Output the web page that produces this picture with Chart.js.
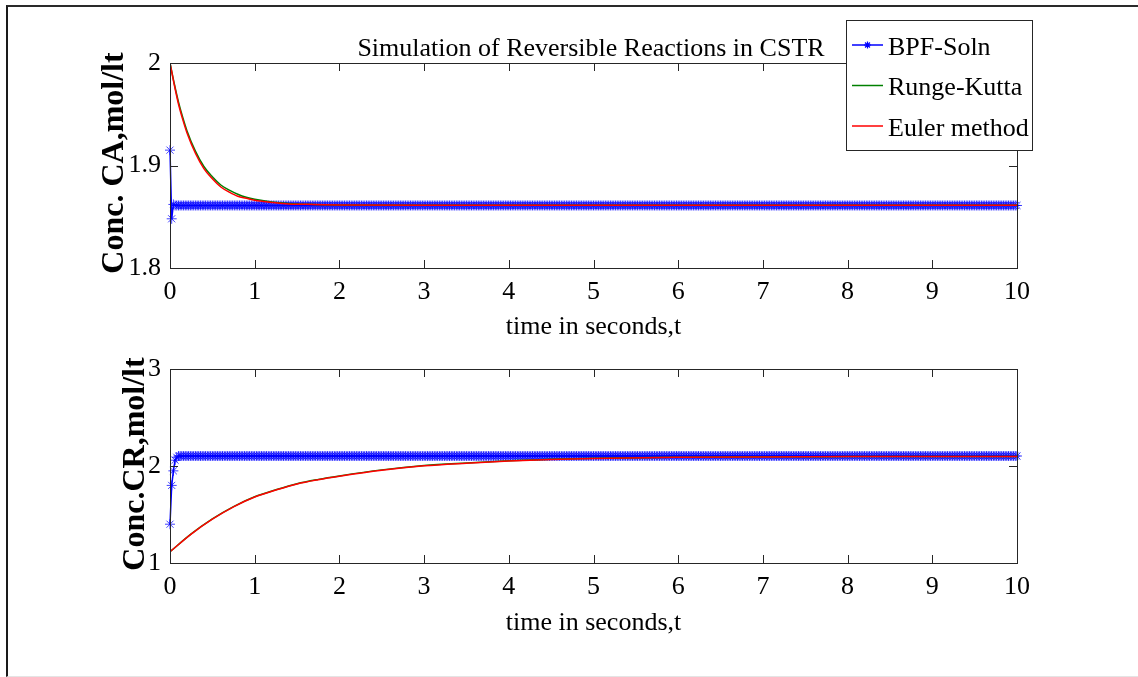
<!DOCTYPE html>
<html>
<head>
<meta charset="utf-8">
<title>Simulation of Reversible Reactions in CSTR</title>
<script src="https://cdn.jsdelivr.net/npm/chart.js@4.4.1/dist/chart.umd.min.js"></script>
<style>
  html, body { margin: 0; padding: 0; background: #fff; }
  #page { position: relative; width: 1138px; height: 677px; overflow: hidden; background: #fff; }
  #frame {
    position: absolute; left: 6px; top: 5px; width: 1132px; height: 672px; box-sizing: border-box;
    border-left: 2px solid #1a1a1a; border-top: 2px solid #2a2a2a; border-bottom: 1px solid #e4e4e4;
  }
  canvas { position: absolute; left: 0; }
  #caChart { top: 0; }
  #crChart { top: 340px; }
</style>
</head>
<body>
<div id="page">
  <div id="frame"></div>
  <canvas id="caChart" width="1138" height="340"></canvas>
  <canvas id="crChart" width="1138" height="337"></canvas>
</div>
<script>
// ---- data ----------------------------------------------------------
const seriesNames = ['BPF-Soln', 'Runge-Kutta', 'Euler method'];

// x axis (time, s)
const timeTicks = [0, 1, 2, 3, 4, 5, 6, 7, 8, 9, 10];
const timeTickLabels = ['0', '1', '2', '3', '4', '5', '6', '7', '8', '9', '10'];

// block-pulse-function solution: sampled every 0.02 s over 0..10 s
const bpfStep = 0.02;
const bpfSamples = 501;
const bpfCAHead = [1.915, 1.848, 1.862];   // first samples of CA
const bpfCALevel = 1.861;                  // CA after the first samples
const bpfCRHead = [1.40, 1.80, 1.95, 2.06, 2.09];
const bpfCRLevel = 2.103;

// CA (top panel)
const caTicks = [1.8, 1.9, 2];
const caTickLabels = ['1.8', '1.9', '2'];
const caTime = [0, 0.05, 0.1, 0.15, 0.2, 0.3, 0.4, 0.5, 0.6, 0.7, 0.8, 0.9, 1.0, 1.2, 1.4, 1.7, 2, 3, 4, 5, 6, 7, 8, 9, 10];
const rkCA = [2.000, 1.980, 1.962, 1.947, 1.934, 1.914, 1.899, 1.889, 1.881, 1.876, 1.872, 1.869, 1.867, 1.8645, 1.863, 1.862, 1.8615, 1.8612, 1.8612, 1.8612, 1.8612, 1.8612, 1.8612, 1.8612, 1.8612];
const eulerCA = [2.000, 1.979, 1.960, 1.945, 1.932, 1.912, 1.897, 1.887, 1.879, 1.874, 1.870, 1.868, 1.866, 1.864, 1.8625, 1.862, 1.8615, 1.8612, 1.8612, 1.8612, 1.8612, 1.8612, 1.8612, 1.8612, 1.8612];

// CR (bottom panel)
const crTicks = [1, 2, 3];
const crTickLabels = ['1', '2', '3'];
const crTime = [0, 0.25, 0.5, 0.75, 1, 1.25, 1.5, 1.75, 2, 2.5, 3, 3.5, 4, 4.5, 5, 6, 7, 8, 9, 10];
const rkCR = [1.116, 1.300, 1.455, 1.582, 1.683, 1.755, 1.818, 1.862, 1.898, 1.960, 2.005, 2.031, 2.053, 2.069, 2.080, 2.090, 2.095, 2.097, 2.098, 2.098];
const eulerCR = [1.116, 1.298, 1.452, 1.579, 1.680, 1.752, 1.815, 1.859, 1.895, 1.957, 2.002, 2.029, 2.051, 2.067, 2.078, 2.089, 2.094, 2.097, 2.098, 2.098];

// ---- helpers -------------------------------------------------------
const SERIF = '"Liberation Serif", "Times New Roman", Times, serif';
const AXIS_INK = '#262626';
const BLUE = '#0000ff', GREEN = '#008000', RED = '#ff0000';

function bpfPoints(head, level) {
  const pts = [];
  for (let i = 0; i < bpfSamples; i++) {
    pts.push({ x: +(i * bpfStep).toFixed(2), y: i < head.length ? head[i] : level });
  }
  return pts;
}
function zipPoints(xs, ys) { return xs.map((x, i) => ({ x, y: ys[i] })); }

function drawStar(ctx, x, y, r) {
  const d = r * Math.SQRT1_2;
  ctx.beginPath();
  ctx.moveTo(x - r, y); ctx.lineTo(x + r, y);
  ctx.moveTo(x, y - r); ctx.lineTo(x, y + r);
  ctx.moveTo(x - d, y - d); ctx.lineTo(x + d, y + d);
  ctx.moveTo(x - d, y + d); ctx.lineTo(x + d, y - d);
  ctx.stroke();
}

// axes box with inward ticks, axis titles, optional title and legend
const axesDecor = {
  id: 'axesDecor',
  afterDraw(chart, args, o) {
    const { ctx, chartArea: a, scales: { x, y } } = chart;
    ctx.save();
    ctx.strokeStyle = AXIS_INK;
    ctx.lineWidth = 1;
    ctx.strokeRect(a.left + 0.5, a.top + 0.5, a.right - a.left, a.bottom - a.top);
    const tl = 8;
    ctx.beginPath();
    x.ticks.forEach(t => {
      const px = Math.round(x.getPixelForValue(t.value)) + 0.5;
      ctx.moveTo(px, a.bottom); ctx.lineTo(px, a.bottom - tl);
      ctx.moveTo(px, a.top); ctx.lineTo(px, a.top + tl);
    });
    y.ticks.forEach(t => {
      const py = Math.round(y.getPixelForValue(t.value)) + 0.5;
      ctx.moveTo(a.left, py); ctx.lineTo(a.left + tl, py);
      ctx.moveTo(a.right, py); ctx.lineTo(a.right - tl, py);
    });
    ctx.stroke();

    ctx.fillStyle = '#000';
    ctx.textAlign = 'center';
    ctx.textBaseline = 'alphabetic';
    // x axis title
    ctx.font = '26px ' + SERIF;
    ctx.fillText(o.xTitle.text, (a.left + a.right) / 2, o.xTitle.baseline);
    // y axis title (rotated)
    ctx.save();
    ctx.font = 'bold 32px ' + SERIF;
    ctx.translate(o.yTitle.baseline, o.yTitle.center);
    ctx.rotate(-Math.PI / 2);
    ctx.fillText(o.yTitle.text, 0, 0);
    ctx.restore();
    // chart title
    if (o.title) {
      ctx.font = '26px ' + SERIF;
      ctx.fillText(o.title.text, o.title.center, o.title.baseline);
    }
    // legend
    if (o.legend) {
      const L = o.legend;
      ctx.fillStyle = '#fff';
      ctx.fillRect(L.left, L.top, L.width, L.height);
      ctx.strokeStyle = AXIS_INK;
      ctx.lineWidth = 1;
      ctx.strokeRect(L.left + 0.5, L.top + 0.5, L.width, L.height);
      ctx.font = '26px ' + SERIF;
      ctx.textAlign = 'left';
      ctx.fillStyle = '#000';
      chart.data.datasets.forEach((ds, i) => {
        const ly = L.top + L.firstLine + i * L.rowGap;
        ctx.strokeStyle = ds.borderColor;
        ctx.lineWidth = ds.borderWidth;
        ctx.beginPath();
        ctx.moveTo(L.left + 6, ly); ctx.lineTo(L.left + 37, ly);
        ctx.stroke();
        if (ds.pointRadius > 0) {
          ctx.lineWidth = 1.2;
          drawStar(ctx, L.left + 21.5, ly, 3.5);
        }
        ctx.fillText(ds.label, L.left + 42, ly + 9.5);
      });
    }
    ctx.restore();
  }
};

function makeChart(canvasId, cfg) {
  return new Chart(document.getElementById(canvasId), {
    type: 'line',
    data: {
      datasets: [
        {
          label: seriesNames[0], data: cfg.bpf, order: 2,
          borderColor: BLUE, borderWidth: 1.5,
          pointStyle: 'star', pointRadius: 5, pointBorderWidth: 1,
          pointBorderColor: 'rgba(0,0,255,0.75)', pointBackgroundColor: 'rgba(0,0,0,0)',
          clip: false
        },
        {
          label: seriesNames[1], data: cfg.rk, order: 1,
          borderColor: GREEN, borderWidth: 1.5, pointRadius: 0,
          cubicInterpolationMode: 'monotone'
        },
        {
          label: seriesNames[2], data: cfg.euler, order: 0,
          borderColor: RED, borderWidth: 1.5, pointRadius: 0,
          cubicInterpolationMode: 'monotone'
        }
      ]
    },
    options: {
      responsive: false,
      animation: false,
      events: [],
      layout: { padding: { left: 0, right: 121, top: cfg.plotTop, bottom: 0 } },
      scales: {
        x: {
          type: 'linear', min: 0, max: 10,
          afterBuildTicks: s => { s.ticks = timeTicks.map(v => ({ value: v })); },
          afterFit: s => { s.height = cfg.xAxisHeight; },
          grid: { display: false, drawTicks: false },
          border: { display: false },
          ticks: {
            autoSkip: false, maxRotation: 0, padding: 9, color: '#000',
            font: { family: SERIF, size: 26 },
            callback: (v, i) => timeTickLabels[i]
          }
        },
        y: {
          type: 'linear', min: cfg.yTicks[0], max: cfg.yTicks[cfg.yTicks.length - 1],
          afterBuildTicks: s => { s.ticks = cfg.yTicks.map(v => ({ value: v })); },
          afterFit: s => { s.width = 170; },
          grid: { display: false, drawTicks: false },
          border: { display: false },
          ticks: {
            autoSkip: false, padding: 9, color: '#000',
            font: { family: SERIF, size: 26 },
            callback: (v, i) => cfg.yTickLabels[i]
          }
        }
      },
      plugins: {
        legend: { display: false },
        tooltip: { enabled: false },
        axesDecor: cfg.decor
      }
    },
    plugins: [axesDecor]
  });
}

makeChart('caChart', {
  bpf: bpfPoints(bpfCAHead, bpfCALevel),
  rk: zipPoints(caTime, rkCA),
  euler: zipPoints(caTime, eulerCA),
  yTicks: caTicks, yTickLabels: caTickLabels,
  plotTop: 63, xAxisHeight: 72,
  decor: {
    xTitle: { text: 'time in seconds,t', baseline: 334 },
    yTitle: { text: 'Conc. CA,mol/lt', baseline: 123, center: 163 },
    title: { text: 'Simulation of Reversible Reactions in CSTR', center: 591, baseline: 56 },
    legend: { left: 846, top: 20, width: 186, height: 130, firstLine: 25, rowGap: 40.5 }
  }
});

makeChart('crChart', {
  bpf: bpfPoints(bpfCRHead, bpfCRLevel),
  rk: zipPoints(crTime, rkCR),
  euler: zipPoints(crTime, eulerCR),
  yTicks: crTicks, yTickLabels: crTickLabels,
  plotTop: 29, xAxisHeight: 114,
  decor: {
    xTitle: { text: 'time in seconds,t', baseline: 290 },
    yTitle: { text: 'Conc.CR,mol/lt', baseline: 144, center: 124 }
  }
});
</script>
</body>
</html>
